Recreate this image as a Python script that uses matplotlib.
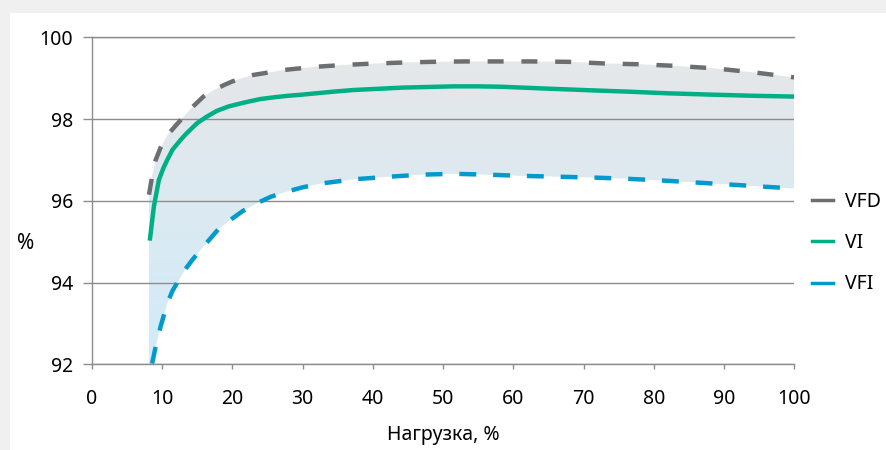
import numpy as np
import matplotlib.pyplot as plt
from matplotlib.patches import Polygon, Rectangle
from matplotlib.lines import Line2D
from matplotlib.colors import LinearSegmentedColormap

plt.rcParams['font.family'] = ['Noto Sans', 'DejaVu Sans']

# Данные
vfd_x = [8.15, 8.6, 9.1, 9.8, 10.75, 11.9, 13.1, 14.5, 15.9, 17.3, 18.8, 20, 21, 23, 25.2, 27.3,
         29.6, 32, 35.5, 39.1, 43.8, 48.5, 53, 57.7, 62.7, 67.9, 73, 78, 83.2, 88.7, 94.3, 100]
vfd_y = [96.15, 96.6, 97.0, 97.3, 97.6, 97.83, 98.06, 98.32, 98.55, 98.7, 98.83, 98.92, 98.98, 99.08, 99.14, 99.2,
         99.24, 99.28, 99.32, 99.35, 99.38, 99.40, 99.41, 99.41, 99.41, 99.40, 99.36, 99.34, 99.30, 99.24, 99.14, 99.02]

vi_x = [8.3, 8.85, 9.56, 10.2, 10.75, 11.5, 12.65, 13.5, 15, 16.3, 17.8, 19.5, 21.6, 24, 26.3, 28, 30.1,
        34.4, 37.2, 44.3, 51.4, 55, 58.4, 64, 70, 76.4, 82, 87.7, 94, 100]
vi_y = [95.08, 95.86, 96.51, 96.8, 97.0, 97.25, 97.49, 97.65, 97.9, 98.05, 98.2, 98.31, 98.4, 98.49, 98.54, 98.57, 98.6,
        98.67, 98.71, 98.77, 98.80, 98.8, 98.79, 98.75, 98.71, 98.67, 98.63, 98.6, 98.57, 98.55]

vfi_x = [8.6, 9.1, 9.8, 10.75, 11.5, 12.4, 13.3, 14.3, 15.5, 16.7, 18, 19.7, 21.5, 23.5, 25.5, 27.7, 30,
         32.9, 37.6, 42.4, 46.9, 51.6, 56.3, 61.3, 66.2, 71.2, 76.1, 80.9, 85.8, 90.6, 95.3, 100]
vfi_y = [92.02, 92.43, 92.92, 93.49, 93.8, 94.06, 94.32, 94.55, 94.8, 95.04, 95.3, 95.53, 95.75, 95.94, 96.1, 96.22, 96.33,
         96.43, 96.53, 96.59, 96.64, 96.66, 96.64, 96.61, 96.59, 96.57, 96.54, 96.50, 96.45, 96.40, 96.35, 96.30]

x_ticks = [0, 10, 20, 30, 40, 50, 60, 70, 80, 90, 100]
y_ticks = [92, 94, 96, 98, 100]
labels = ['VFD', 'VI', 'VFI']
colors = ['#6d6e71', '#00b085', '#009bcc']

fig = plt.figure(figsize=(8.86, 4.5), dpi=100)
fig.patch.set_facecolor('#f0f0f0')
fig.patches.append(Rectangle((10/886, 0), 1, 1 - 13/450, transform=fig.transFigure,
                             facecolor='white', edgecolor='none', zorder=-10))

ax = fig.add_axes([0.1035, 0.1904, 0.8966 - 0.1035, 0.9171 - 0.1904])
ax.set_facecolor('none')
ax.set_zorder(5)
ax.set_xlim(0, 100)
ax.set_ylim(92, 100)

# градиентная заливка между VFD и VFI
poly_pts = list(zip(vfd_x, vfd_y)) + list(zip(vfi_x[::-1], vfi_y[::-1])) + [(vfd_x[0], 92.0)]
poly = Polygon(poly_pts, closed=True, facecolor='none', edgecolor='none', transform=ax.transData)
ax.add_patch(poly)
cmap = LinearSegmentedColormap.from_list('g', ['#d1ecfa', '#e6e7e9'])
grad = np.linspace(0, 1, 256).reshape(-1, 1)
im = ax.imshow(grad, cmap=cmap, aspect='auto', origin='lower',
               extent=[0, 100, 92, 99.5], zorder=1)
im.set_clip_path(poly)

ax.plot(vfd_x, vfd_y, color=colors[0], lw=3.2, dashes=(3.6, 4.0), zorder=4)
ax.plot(vi_x, vi_y, color=colors[1], lw=3.2, zorder=4)
ax.plot(vfi_x, vfi_y, color=colors[2], lw=3.2, dashes=(3.8, 3.8), zorder=4)

ax.set_xticks(x_ticks)
ax.set_yticks(y_ticks)
ax.grid(axis='y', color='#8c8c8c', lw=1, zorder=2)
ax.set_axisbelow(False)
ax.spines['right'].set_visible(False)
for s in ['left', 'bottom', 'top']:
    ax.spines[s].set_color('#8c8c8c')
    ax.spines[s].set_linewidth(1)
ax.tick_params(axis='x', direction='out', length=3.5, width=1, color='#8c8c8c',
               labelsize=14, pad=14)
ax.tick_params(axis='y', direction='out', length=6.5, width=1, color='#8c8c8c',
               labelsize=14, pad=7)

ax.set_xlabel('Нагрузка, %', fontsize=14, labelpad=12)
fig.text(26/886, 1 - 243/450, '%', fontsize=15, ha='center', va='center')

handles = [Line2D([0], [0], color=c, lw=2.5) for c in colors]
fig.legend(handles, labels, loc='center left', bbox_to_anchor=(812/886, 1 - 243/450),
           frameon=False, fontsize=14, handlelength=1.1, handletextpad=0.6,
           labelspacing=1.1, borderpad=0, borderaxespad=0)

fig.savefig('out.png', dpi=100, facecolor=fig.get_facecolor())
